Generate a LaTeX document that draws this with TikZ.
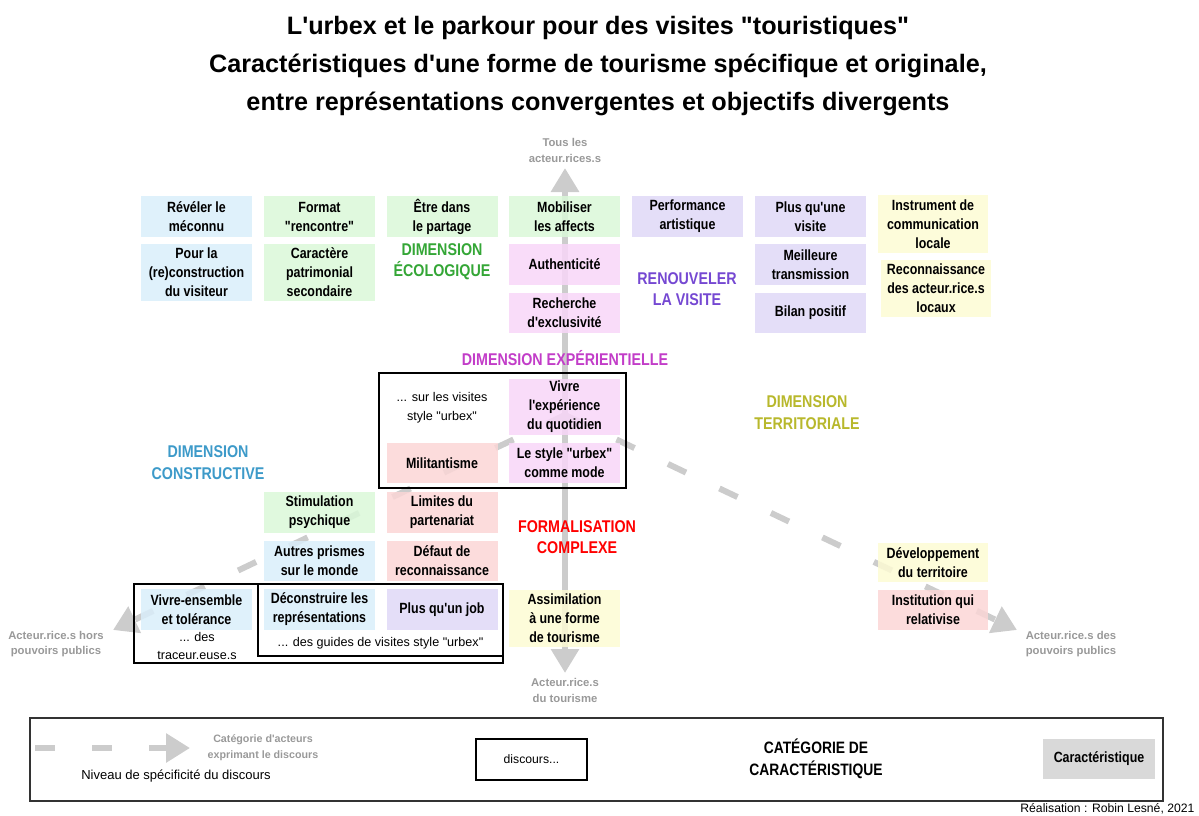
\documentclass[tikz,border=0pt]{standalone}
\usepackage{fontspec}
\setmainfont{Liberation Sans}[Ligatures=TeXOff]
\newfontfamily\narrowfont{Liberation Sans}[FakeStretch=0.84,Ligatures=TeXOff]
\usetikzlibrary{arrows.meta, positioning}
\definecolor{cbleu}{HTML}{D9EEFA}
\definecolor{cvert}{HTML}{DAF8D8}
\definecolor{crose}{HTML}{F8D6F8}
\definecolor{cviolet}{HTML}{DFD8F7}
\definecolor{cjaune}{HTML}{FDFBD4}
\definecolor{crouge}{HTML}{FBD6D6}
\definecolor{tbleu}{HTML}{3D9AC9}
\definecolor{tvert}{HTML}{34A636}
\definecolor{trose}{HTML}{C23DC8}
\definecolor{tviolet}{HTML}{7548D2}
\definecolor{tjaune}{HTML}{B8B82C}
\definecolor{trouge}{HTML}{FF0000}
\definecolor{axisgray}{HTML}{CCCCCC}
\definecolor{labelgray}{HTML}{999999}
\definecolor{legendgray}{HTML}{D9D9D9}
\tikzset{
	carac/.style={minimum width=111pt, minimum height=41pt, inner sep=0pt, align=center,
		font=\narrowfont\bfseries\fontsize{14.8}{19}\selectfont, fill opacity=0.85, text opacity=1}
}
\tikzset{
	dimlabel/.style={align=center, font=\narrowfont\bfseries\fontsize{17}{21.5}\selectfont}
}
\tikzset{
	axistext/.style={align=center, text=labelgray, font=\bfseries\fontsize{11.3}{15.5}\selectfont},
	plaintext/.style={align=center, font=\fontsize{12.6}{19}\selectfont},
	discoursframe/.style={draw=black, line width=2pt, inner sep=0pt},
	axisline/.style={draw=axisgray, line width=6pt},
	niveau/.style={axisline, dash pattern=on 20pt off 37pt, -{Triangle[length=24pt,width=28pt]}}
}

\begin{document}
\begin{tikzpicture}[x=1pt, y=-1pt]
  \useasboundingbox (0,0) rectangle (1199,816);
  \node[align=center, font=\bfseries\fontsize{25.2}{38}\selectfont] (titre) at (598,66)
    {L'urbex et le parkour pour des visites "touristiques"\\
     Caractéristiques d'une forme de tourisme spécifique et originale,\\
     entre représentations convergentes et objectifs divergents};

  \coordinate (haut) at (565,168);
  \coordinate (bas) at (565,673);
  \coordinate (apex) at (565,415);
  \coordinate (gauche) at (113,630);
  \coordinate (droite) at (1017,630);
  \draw[axisline, {Triangle[length=24pt,width=27pt]}-{Triangle[length=24pt,width=27pt]}] (bas) -- (haut);
  \draw[niveau] (apex) -- (gauche);
  \draw[niveau] (apex) -- (droite);
  \node[axistext] (tous) at (565,150.5) {Tous les\\acteur.rices.s};
  \node[axistext] (tourisme) at (565,690.5) {Acteur.rice.s\\du tourisme};
  \node[axistext] (hors) at (56,644) {Acteur.rice.s hors\\pouvoirs publics};
  \node[axistext] (publics) at (1071,644) {Acteur.rice.s des\\pouvoirs publics};

  \node[carac, fill=cbleu] (reveler) at (196.5,216.5) {Révéler le\\méconnu};
  \node[carac, fill=cbleu, minimum height=57pt] (pourla) at (196.5,272.5) {Pour la\\(re)construction\\du visiteur};
  \node[carac, fill=cvert] (format) at (319.5,216.5) {Format\\"rencontre"};
  \node[carac, fill=cvert, minimum height=57pt] (caractere) at (319.5,272.5) {Caractère\\patrimonial\\secondaire};
  \node[carac, fill=cvert] (partage) at (442,216.5) {Être dans\\le partage};
  \node[carac, fill=cvert] (affects) at (564.5,216.5) {Mobiliser\\les affects};
  \node[carac, fill=crose] (authenticite) at (564.5,264.5) {Authenticité};
  \node[carac, fill=crose, minimum height=40pt] (exclusivite) at (564.5,313) {Recherche\\d'exclusivité};
  \node[carac, fill=cviolet] (performance) at (687.5,216.5) {Performance\\artistique};
  \node[carac, fill=cviolet] (plusvisite) at (810.5,216.5) {Plus qu'une\\visite};
  \node[carac, fill=cviolet] (transmission) at (810.5,264.5) {Meilleure\\transmission};
  \node[carac, fill=cviolet, minimum height=40pt] (bilan) at (810.5,313) {Bilan positif};
  \node[carac, fill=cjaune, minimum height=58pt, minimum width=110pt] (instrument) at (933,224) {Instrument de\\communication\\locale};
  \node[carac, fill=cjaune, minimum height=57pt, minimum width=110pt] (reconnaissance) at (936,288.5) {Reconnaissance\\des acteur.rice.s\\locaux};

  \node[dimlabel, text=tvert] (ecologique) at (442,261.5) {DIMENSION\\ÉCOLOGIQUE};
  \node[dimlabel, text=tviolet] (renouveler) at (687,289) {RENOUVELER\\LA VISITE};
  \node[dimlabel, text=trose] (experientielle) at (565,358) {DIMENSION EXPÉRIENTIELLE};
  \node[dimlabel, text=tbleu] (constructive) at (208,462.5) {DIMENSION\\CONSTRUCTIVE};
  \node[dimlabel, text=tjaune] (territoriale) at (807,412.5) {DIMENSION\\TERRITORIALE};
  \node[dimlabel, text=trouge] (formalisation) at (577,537) {FORMALISATION\\COMPLEXE};

  \node[discoursframe, minimum width=247pt, minimum height=115pt] (fvisites) at (502.5,430.5) {};
  \node[plaintext] (survisites) at (442,408) {... sur les visites\\style "urbex"};
  \node[carac, fill=crose, minimum height=56pt] (quotidien) at (564.5,407) {Vivre\\l'expérience\\du quotidien};
  \node[carac, fill=crouge, minimum height=40pt] (militantisme) at (442,463) {Militantisme};
  \node[carac, fill=crose, minimum height=40pt] (mode) at (564.5,463) {Le style "urbex"\\comme mode};

  \node[carac, fill=cvert] (stimulation) at (319.5,512.5) {Stimulation\\psychique};
  \node[carac, fill=crouge] (partenariat) at (442,512.5) {Limites du\\partenariat};
  \node[carac, fill=cbleu, minimum height=40pt] (prismes) at (319.5,561) {Autres prismes\\sur le monde};
  \node[carac, fill=crouge, minimum height=40pt] (defaut) at (442,561) {Défaut de\\reconnaissance};

  \node[discoursframe, minimum width=369pt, minimum height=79pt] (ftraceurs) at (318.5,623.5) {};
  \node[discoursframe, minimum width=245pt, minimum height=72pt] (fguides) at (380.5,620) {};
  \node[carac, fill=cbleu] (vivreensemble) at (196.5,609.5) {Vivre-ensemble\\et tolérance};
  \node[plaintext, font=\fontsize{12.6}{18}\selectfont] (traceurs) at (197,646) {... des\\traceur.euse.s};
  \node[carac, fill=cbleu] (deconstruire) at (319.5,609.5) {Déconstruire les\\représentations};
  \node[carac, fill=cviolet] (job) at (442,609.5) {Plus qu'un job};
  \node[plaintext] (guides) at (380.5,643) {... des guides de visites style "urbex"};
  \node[carac, fill=cjaune, minimum height=57pt] (assimilation) at (564.5,618.5) {Assimilation\\à une forme\\de tourisme};

  \node[carac, fill=cjaune, minimum height=39pt, minimum width=110pt] (territoire) at (933,562.5) {Développement\\du territoire};
  \node[carac, fill=crouge, minimum height=40pt, minimum width=110pt] (institution) at (933,610) {Institution qui\\relativise};

  \node[draw=black!80, line width=1.5pt, minimum width=1133pt, minimum height=83pt, inner sep=0pt] (legende) at (596.5,759.5) {};
  \coordinate (legdebut) at (35,748);
  \coordinate (legfin) at (190,748);
  \draw[niveau] (legdebut) -- (legfin);
  \node[axistext, font=\bfseries\fontsize{10.7}{16}\selectfont] (categacteurs) at (263,748) {Catégorie d'acteurs\\exprimant le discours};
  \node[plaintext, font=\fontsize{13}{19}\selectfont] (specificite) at (176,776) {Niveau de spécificité du discours};
  \node[discoursframe, minimum width=111pt, minimum height=41pt, font=\fontsize{12.2}{19}\selectfont] (discours) at (531.5,759.5) {discours...};
  \node[dimlabel, font=\narrowfont\bfseries\fontsize{16.5}{22}\selectfont] (categcarac) at (816,759) {CATÉGORIE DE\\CARACTÉRISTIQUE};
  \node[carac, fill=legendgray, fill opacity=1, minimum width=112pt, minimum height=40pt] (caracteristique) at (1099,759) {Caractéristique};

  \node[anchor=east, font=\fontsize{12.2}{14}\selectfont] (realisation) at (1198,809) {Réalisation : Robin Lesné, 2021};
\end{tikzpicture}
\end{document}
